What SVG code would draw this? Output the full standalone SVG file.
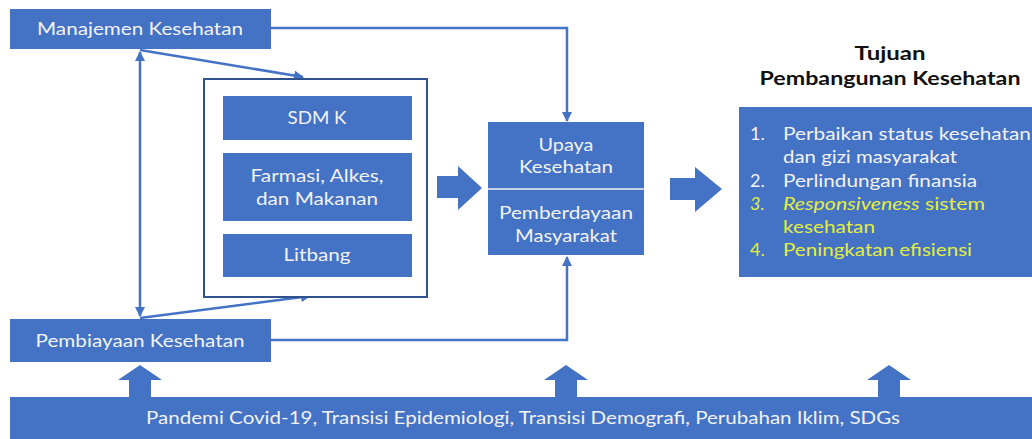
<svg xmlns="http://www.w3.org/2000/svg" width="1032" height="439" viewBox="0 0 1032 439">
<defs>
<style>
.box{fill:#4472C4;}
.t{font-family:Lato,"Liberation Sans",sans-serif;font-size:17px;fill:#F2F2F2;text-anchor:middle;}
.li{font-family:Lato,"Liberation Sans",sans-serif;font-size:18px;fill:#F2F2F2;}
.y{fill:#E4EE3E;}
.ln{stroke:#4472C4;stroke-width:2.5;fill:none;}
.title{font-family:Lato,"Liberation Sans",sans-serif;font-size:18px;font-weight:bold;fill:#111;text-anchor:middle;}
</style>
<marker id="ah" viewBox="0 0 10 10" refX="9" refY="5" markerWidth="4" markerHeight="4" orient="auto-start-reverse" markerUnits="strokeWidth">
<path d="M0,0 L10,5 L0,10 z" fill="#4472C4"/>
</marker>
</defs>
<rect width="1032" height="439" fill="#fff"/>

<g id="connectors">
<polyline class="ln" points="271,28 567,28 567,121" marker-end="url(#ah)"/>
<polyline class="ln" points="271,340 567,340 567,257" marker-end="url(#ah)"/>
<line class="ln" x1="140" y1="52" x2="140" y2="316" marker-start="url(#ah)" marker-end="url(#ah)"/>
<line class="ln" x1="140" y1="50" x2="303" y2="77" marker-end="url(#ah)"/>
<line class="ln" x1="140" y1="318" x2="310" y2="296" marker-end="url(#ah)"/>
<polygon class="box" points="437,176 458,176 458,166 482,188 458,210 458,198 437,198"/>
<polygon class="box" points="670,178 695,178 695,167 722,189 695,212 695,200 670,200"/>
<polygon class="box" points="129,397 129,380 118,380 140,365 162,380 151,380 151,397"/>
<polygon class="box" points="555,397 555,380 544,380 566,365 588,380 577,380 577,397"/>
<polygon class="box" points="878,397 878,380 867,380 889,365 911,380 900,380 900,397"/>
</g>

<g id="manajemen">
<rect class="box" x="10" y="9" width="261" height="40"/>
<text class="t" x="140" y="35" textLength="206" lengthAdjust="spacingAndGlyphs">Manajemen Kesehatan</text>
</g>

<g id="pembiayaan">
<rect class="box" x="10" y="319" width="261" height="43"/>
<text class="t" x="140" y="347" textLength="209" lengthAdjust="spacingAndGlyphs">Pembiayaan Kesehatan</text>
</g>

<g id="sumberdaya">
<rect x="204" y="79" width="223" height="218" fill="#fff" stroke="#2F528F" stroke-width="2"/>
<g id="sdmk">
<rect class="box" x="223" y="96" width="189" height="44"/>
<text class="t" x="317" y="124" textLength="59" lengthAdjust="spacingAndGlyphs">SDM K</text>
</g>
<g id="farmasi">
<rect class="box" x="223" y="153" width="189" height="68"/>
<text class="t" x="317" y="182" textLength="133" lengthAdjust="spacingAndGlyphs">Farmasi, Alkes,</text>
<text class="t" x="317" y="205" textLength="122" lengthAdjust="spacingAndGlyphs">dan Makanan</text>
</g>
<g id="litbang">
<rect class="box" x="223" y="234" width="189" height="43"/>
<text class="t" x="317" y="261" textLength="67" lengthAdjust="spacingAndGlyphs">Litbang</text>
</g>
</g>

<g id="upaya">
<rect class="box" x="488" y="122" width="156" height="133"/>
<line x1="488" y1="189" x2="644" y2="189" stroke="#F2F2F2" stroke-width="1.5"/>
<text class="t" x="566" y="151" textLength="55" lengthAdjust="spacingAndGlyphs">Upaya</text>
<text class="t" x="566" y="173" textLength="94" lengthAdjust="spacingAndGlyphs">Kesehatan</text>
<text class="t" x="566" y="219" textLength="134" lengthAdjust="spacingAndGlyphs">Pemberdayaan</text>
<text class="t" x="566" y="242" textLength="102" lengthAdjust="spacingAndGlyphs">Masyarakat</text>
</g>

<g id="tujuan">
<text class="title" x="890" y="60" textLength="71" lengthAdjust="spacingAndGlyphs">Tujuan</text>
<text class="title" x="890" y="85" textLength="261" lengthAdjust="spacingAndGlyphs">Pembangunan Kesehatan</text>
<rect class="box" x="739" y="107" width="293" height="170"/>
<text class="li" x="750" y="140">1.</text>
<text class="li" x="783" y="140" textLength="248" lengthAdjust="spacingAndGlyphs">Perbaikan status kesehatan</text>
<text class="li" x="783" y="163" textLength="174" lengthAdjust="spacingAndGlyphs">dan gizi masyarakat</text>
<text class="li" x="750" y="187">2.</text>
<text class="li" x="783" y="187" textLength="194" lengthAdjust="spacingAndGlyphs">Perlindungan finansia</text>
<text class="li y" x="750" y="210" font-style="italic">3.</text>
<text class="li y" x="783" y="210" textLength="202" lengthAdjust="spacingAndGlyphs"><tspan font-style="italic">Responsiveness</tspan> sistem</text>
<text class="li y" x="783" y="233" textLength="92" lengthAdjust="spacingAndGlyphs">kesehatan</text>
<text class="li y" x="750" y="256">4.</text>
<text class="li y" x="783" y="256" textLength="189" lengthAdjust="spacingAndGlyphs">Peningkatan efisiensi</text>
</g>

<g id="konteks">
<rect class="box" x="10" y="397" width="1022" height="42"/>
<text class="t" x="523" y="424" textLength="754" lengthAdjust="spacingAndGlyphs">Pandemi Covid-19, Transisi Epidemiologi, Transisi Demografi, Perubahan Iklim, SDGs</text>
</g>
</svg>
